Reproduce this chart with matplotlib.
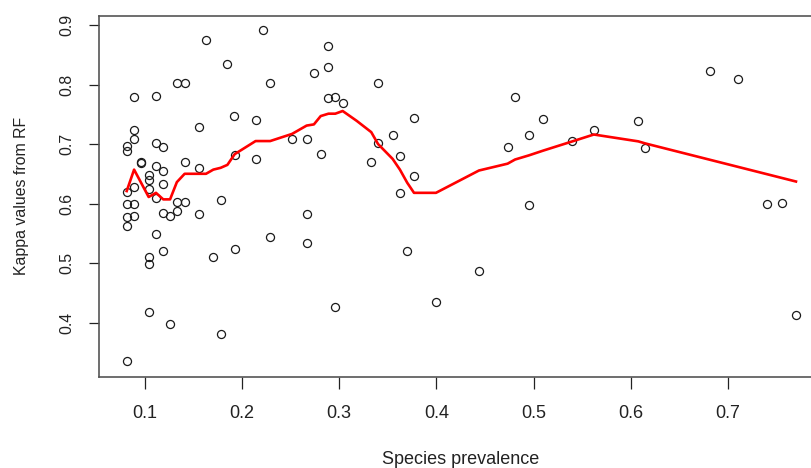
import matplotlib
matplotlib.use("Agg")
import matplotlib.pyplot as plt

plt.rcParams['font.family'] = ['Liberation Sans', 'DejaVu Sans']

# Species prevalence vs. Kappa values from random forest models
prevalence = [
    0.222, 0.163, 0.185, 0.133, 0.141, 0.229, 0.089, 0.1115, 0.192, 0.214,
    0.156, 0.089, 0.089, 0.0814, 0.0814, 0.1115, 0.119, 0.0964, 0.0964, 0.141,
    0.1925, 0.214, 0.1115, 0.156, 0.119, 0.104, 0.104, 0.119, 0.089, 0.0814,
    0.104, 0.0814, 0.089, 0.1115, 0.133, 0.141, 0.178, 0.0814, 0.089, 0.119,
    0.126, 0.133, 0.156, 0.0814, 0.1115, 0.119, 0.104, 0.104, 0.1705, 0.1925,
    0.229, 0.104, 0.126, 0.178, 0.0814, 0.289, 0.289, 0.274, 0.340, 0.289,
    0.296, 0.3036, 0.377, 0.355, 0.2515, 0.2665, 0.340, 0.281, 0.3625, 0.333,
    0.377, 0.3625, 0.2665, 0.2665, 0.370, 0.296, 0.481, 0.510, 0.4953, 0.562,
    0.4733, 0.540, 0.4953, 0.4438, 0.3996, 0.6815, 0.7106, 0.6077, 0.615, 0.740,
    0.7552, 0.770,
]
kappa = [
    0.892, 0.874, 0.834, 0.802, 0.802, 0.803, 0.779, 0.781, 0.747, 0.740,
    0.728, 0.724, 0.708, 0.696, 0.688, 0.702, 0.695, 0.670, 0.668, 0.670,
    0.682, 0.675, 0.663, 0.660, 0.654, 0.648, 0.639, 0.632, 0.628, 0.620,
    0.625, 0.5995, 0.5995, 0.609, 0.602, 0.602, 0.606, 0.578, 0.5795, 0.584,
    0.5795, 0.587, 0.582, 0.562, 0.548, 0.521, 0.511, 0.499, 0.5105, 0.523,
    0.543, 0.418, 0.398, 0.380, 0.335, 0.864, 0.830, 0.819, 0.803, 0.777,
    0.7795, 0.7695, 0.744, 0.716, 0.708, 0.708, 0.702, 0.683, 0.6805, 0.670,
    0.647, 0.618, 0.582, 0.5345, 0.5205, 0.426, 0.779, 0.742, 0.7145, 0.724,
    0.6945, 0.7045, 0.597, 0.487, 0.434, 0.823, 0.809, 0.738, 0.693, 0.5995,
    0.6017, 0.412,
]

# Smoothed trend (lowess fit)
trend_x = [
    0.0814, 0.089, 0.104, 0.1115, 0.119, 0.126, 0.133, 0.141, 0.156, 0.163,
    0.1705, 0.178, 0.185, 0.1925, 0.214, 0.229, 0.2515, 0.2665, 0.274, 0.281,
    0.289, 0.296, 0.3036, 0.318, 0.333, 0.340, 0.355, 0.3625, 0.370, 0.377,
    0.3996, 0.4438, 0.4733, 0.481, 0.4953, 0.510, 0.540, 0.562, 0.6077, 0.615,
    0.770,
]
trend_y = [
    0.621, 0.657, 0.611, 0.618, 0.607, 0.607, 0.636, 0.650, 0.650, 0.650,
    0.657, 0.660, 0.665, 0.683, 0.705, 0.705, 0.717, 0.731, 0.733, 0.747,
    0.751, 0.751, 0.7555, 0.739, 0.720, 0.700, 0.675, 0.657, 0.635, 0.618,
    0.618, 0.6555, 0.667, 0.674, 0.681, 0.689, 0.7045, 0.716, 0.7045, 0.701,
    0.637,
]

x_ticks = [0.1, 0.2, 0.3, 0.4, 0.5, 0.6, 0.7]
y_ticks = [0.4, 0.5, 0.6, 0.7, 0.8, 0.9]

W, H = 811, 468
fig = plt.figure(figsize=(W / 100, H / 100), dpi=100)
left, right, top, bottom = 99.3, 823.0, 15.5, 377.3
ax = fig.add_axes([left / W, (H - bottom) / H, (right - left) / W, (bottom - top) / H])

ax.plot(prevalence, kappa, linestyle='none', marker='o', markersize=5.8,
        markerfacecolor='none', markeredgecolor='#1a1a1a', markeredgewidth=0.9)
ax.plot(trend_x, trend_y, color='#ff0000', linewidth=1.9, solid_joinstyle='round')

ax.set_xlim(0.0532, 0.7978)
ax.set_ylim(0.308, 0.916)
ax.set_xticks(x_ticks)
ax.set_yticks(y_ticks)
ax.set_xticklabels([f"{v:g}" for v in x_ticks], fontsize=13)
ax.set_yticklabels([f"{v:g}" for v in y_ticks], fontsize=11.4, rotation=90, va='center')

ax.tick_params(axis='x', length=8.5, width=0.9, pad=11.5, colors='#222222')
ax.tick_params(axis='y', length=7.2, width=0.9, pad=11, colors='#222222')

for side in ['left', 'bottom', 'top', 'right']:
    ax.spines[side].set_color('#555555')
    ax.spines[side].set_linewidth(1.2)

fig.text(461 / W, 1 - 459 / H, "Species prevalence", ha='center', va='center',
         fontsize=13, color='#222222')
fig.text(22 / W, 1 - 196 / H, "Kappa values from RF", ha='center', va='center',
         fontsize=11.4, rotation=90, color='#222222')

fig.savefig("out.png", dpi=100)
